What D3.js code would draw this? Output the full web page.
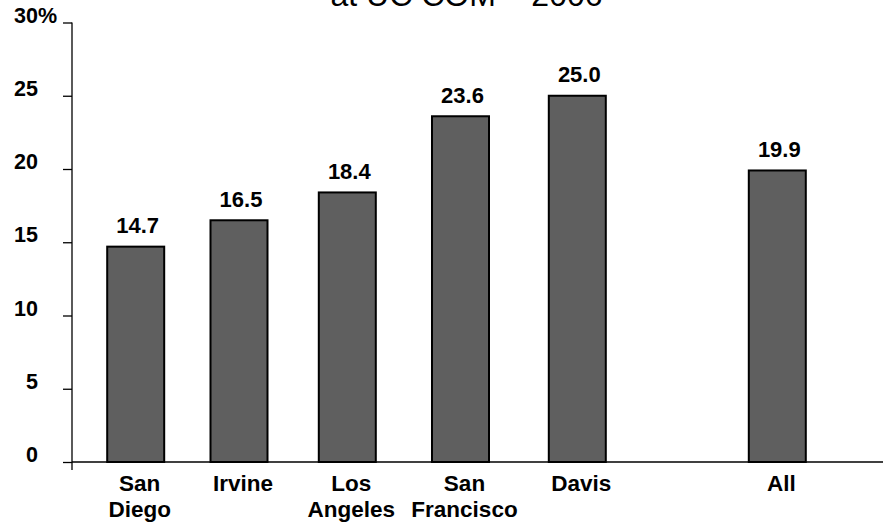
<!DOCTYPE html>
<html>
<head>
<meta charset="utf-8">
<script src="https://cdn.jsdelivr.net/npm/d3@7"></script>
<style>
  html, body { margin: 0; padding: 0; background: #fff; }
  svg { display: block; }
  text { font-family: "Liberation Sans", Arial, Helvetica, sans-serif; }
</style>
</head>
<body>
<svg id="chart" width="883" height="523"></svg>
<script>
const titleLine = "at UC COM \u2013 2006";
const categories = ["San Diego", "Irvine", "Los Angeles", "San Francisco", "Davis", "All"];
const categoryLines = [["San", "Diego"], ["Irvine"], ["Los", "Angeles"], ["San", "Francisco"], ["Davis"], ["All"]];
const values = [14.7, 16.5, 18.4, 23.6, 25.0, 19.9];
const valueLabels = ["14.7", "16.5", "18.4", "23.6", "25.0", "19.9"];
const yTicks = [0, 5, 10, 15, 20, 25, 30];

const svg = d3.select("#chart");
const W = 883;

// Layout
const axisX = 72, baseY = 462, topY = 22.5;
const barWidth = 57;

const x = d3.scaleOrdinal()
  .domain(categories)
  .range([135.7, 239, 347.3, 460.5, 577.3, 777.3]);

const y = d3.scaleLinear().domain([0, 30]).range([baseY, topY]);

// Title (partially cut off at the top, as in the reference)
svg.append("text")
  .attr("x", 466.5)
  .attr("y", 6)
  .attr("text-anchor", "middle")
  .attr("font-size", 32)
  .attr("fill", "#000")
  .text(titleLine);

// Y axis
const yAxis = d3.axisLeft(y)
  .tickValues(yTicks)
  .tickSize(9)
  .tickPadding(25)
  .tickFormat(d => String(d));

const gy = svg.append("g")
  .attr("transform", `translate(${axisX},0)`)
  .call(yAxis);
gy.select(".domain").remove();
gy.selectAll(".tick line").attr("stroke", "#000").attr("stroke-width", 1.3);
gy.selectAll(".tick text")
  .attr("font-size", 21.5)
  .attr("font-weight", "bold")
  .attr("font-family", "'Liberation Sans', Arial, sans-serif")
  .attr("fill", "#000")
  .attr("dy", "-0.02em");
// percent sign after the top tick label
gy.selectAll(".tick").filter(d => d === 30)
  .append("text")
  .attr("x", -34)
  .attr("y", 0)
  .attr("dy", "-0.02em")
  .attr("text-anchor", "start")
  .attr("font-size", 21.5)
  .attr("font-weight", "bold")
  .attr("fill", "#000")
  .attr("font-family", "'Liberation Sans', Arial, sans-serif")
  .text("%");

// Y axis line (extends a bit below baseline)
svg.append("line")
  .attr("x1", axisX).attr("x2", axisX)
  .attr("y1", y(30)).attr("y2", baseY + 8)
  .attr("stroke", "#000").attr("stroke-width", 1.3);

// X axis line
svg.append("line")
  .attr("x1", axisX).attr("x2", W)
  .attr("y1", baseY).attr("y2", baseY)
  .attr("stroke", "#000").attr("stroke-width", 1.3);

// Bars
svg.append("g").selectAll("rect")
  .data(categories)
  .join("rect")
  .attr("x", d => x(d) - barWidth / 2)
  .attr("y", (d, i) => y(values[i]))
  .attr("width", barWidth)
  .attr("height", (d, i) => y(0) - y(values[i]))
  .attr("fill", "#5f5f5f")
  .attr("stroke", "#000")
  .attr("stroke-width", 2);

// Value labels
svg.append("g").selectAll("text")
  .data(categories)
  .join("text")
  .attr("x", d => x(d) + 2)
  .attr("y", (d, i) => y(values[i]) - 13.5)
  .attr("text-anchor", "middle")
  .attr("font-size", 22)
  .attr("font-weight", "bold")
  .attr("fill", "#000")
  .text((d, i) => valueLabels[i]);

// Category labels
const cat = svg.append("g").selectAll("text")
  .data(categories)
  .join("text")
  .attr("x", d => x(d) + 4)
  .attr("y", 491)
  .attr("text-anchor", "middle")
  .attr("font-size", 22.5)
  .attr("font-weight", "bold")
  .attr("fill", "#000");
cat.each(function(d, i) {
  const t = d3.select(this);
  categoryLines[i].forEach((line, j) => {
    t.append("tspan")
      .attr("x", x(d) + 4)
      .attr("y", 491 + j * 25.5)
      .text(line);
  });
});
</script>
</body>
</html>
